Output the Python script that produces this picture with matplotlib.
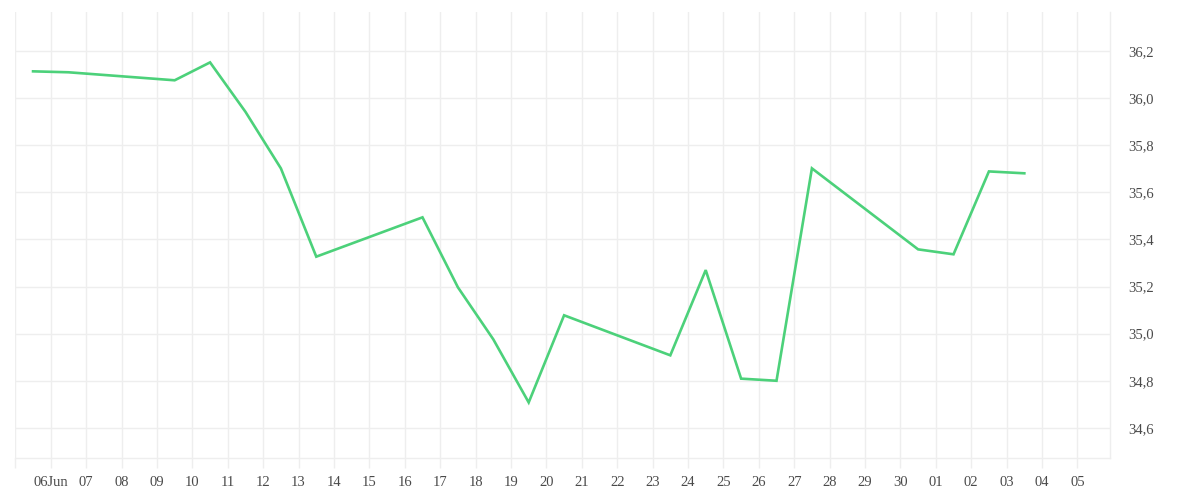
import datetime as dt
import matplotlib
matplotlib.use("Agg")
import matplotlib.pyplot as plt
import matplotlib.dates as mdates
from matplotlib.ticker import FuncFormatter, FixedLocator

# closing values, one per trading day (2025)
days = ["2025-06-05", "2025-06-06", "2025-06-09", "2025-06-10", "2025-06-11",
        "2025-06-12", "2025-06-13", "2025-06-16", "2025-06-17", "2025-06-18",
        "2025-06-19", "2025-06-20", "2025-06-23", "2025-06-24", "2025-06-25",
        "2025-06-26", "2025-06-27", "2025-06-30", "2025-07-01", "2025-07-02",
        "2025-07-03"]
values = [36.114, 36.110, 36.076, 36.152, 35.942,
          35.702, 35.327, 35.494, 35.197, 34.976,
          34.708, 35.078, 34.908, 35.270, 34.809,
          34.800, 35.702, 35.358, 35.337, 35.689,
          35.681]
y_ticks = [34.6, 34.8, 35.0, 35.2, 35.4, 35.6, 35.8, 36.0, 36.2]

# points sit in the middle of each day
x = [dt.datetime.strptime(d, "%Y-%m-%d") + dt.timedelta(hours=12) for d in days]

grid_col = "#eeeeee"
text_col = "#4a4a4a"
plt.rcParams['font.family'] = ['Liberation Serif', 'DejaVu Serif']

fig = plt.figure(figsize=(12, 5), dpi=100)
ax = fig.add_axes([15/1200, 42/500, 1095/1200, 446/500])

ax.plot(x, values, color="#4cd17a", lw=1.9, solid_joinstyle="miter")

start = dt.datetime(2025, 6, 5)
ax.set_xlim(start - dt.timedelta(days=0.01), start + dt.timedelta(days=30.92))
ax.set_ylim(34.472, 36.366)

# day ticks
tick_days = [start + dt.timedelta(days=i) for i in range(1, 31)]
ax.xaxis.set_major_locator(FixedLocator(mdates.date2num(tick_days)))
labels = [d.strftime("%d") for d in tick_days]
labels[0] = labels[0] + "Jun"
ax.set_xticklabels(labels)
ax.xaxis.set_minor_locator(FixedLocator([mdates.date2num(start)]))

ax.yaxis.set_major_locator(FixedLocator(y_ticks))
ax.yaxis.set_major_formatter(FuncFormatter(lambda v, p: ("%.1f" % v).replace(".", ",")))
ax.yaxis.tick_right()

ax.grid(True, which="both", color=grid_col, lw=1)
ax.tick_params(axis="x", which="both", length=7.2, color=grid_col, width=1,
               labelsize=10.5, labelcolor=text_col, pad=6)
ax.tick_params(axis="y", length=0, labelsize=10.5, labelcolor=text_col, pad=13)

for side in ["top", "left"]:
    ax.spines[side].set_visible(False)
for side in ["bottom", "right"]:
    ax.spines[side].set_color(grid_col)
    ax.spines[side].set_linewidth(1)

fig.savefig("out.png", dpi=100, facecolor="white")
